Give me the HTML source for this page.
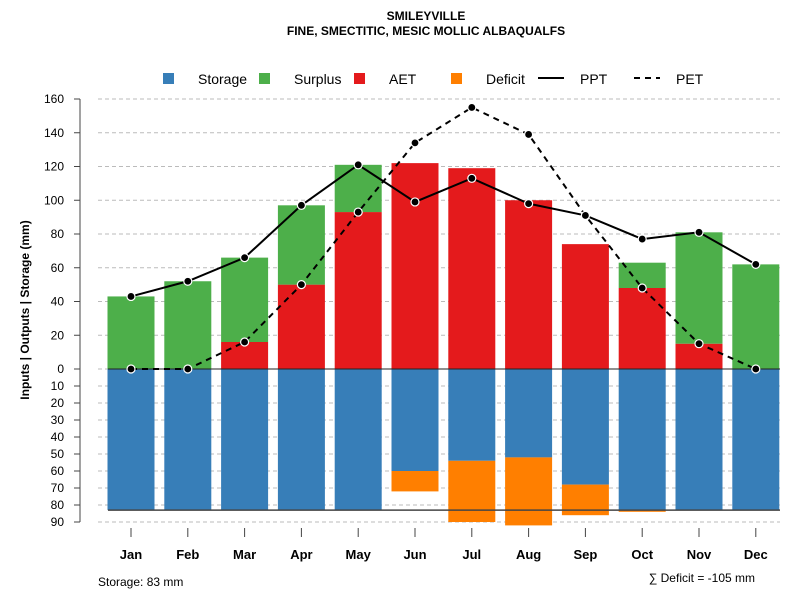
<!DOCTYPE html>
<html><head><meta charset="utf-8"><style>
body{margin:0;background:#fff}
text{font-family:"Liberation Sans",sans-serif}
</style></head><body>
<svg id="c" width="800" height="600" xmlns="http://www.w3.org/2000/svg">
<text x="426" y="20" text-anchor="middle" font-size="12" font-weight="bold">SMILEYVILLE</text>
<text x="426" y="35" text-anchor="middle" font-size="12" font-weight="bold">FINE, SMECTITIC, MESIC MOLLIC ALBAQUALFS</text>
<g id="legend"></g>
<g id="grid"></g><g id="bars"></g><g id="lines"></g><g id="axes"></g>
<text x="29" y="310" transform="rotate(-90 29 310)" text-anchor="middle" font-size="12" font-weight="bold">Inputs | Outputs | Storage    (mm)</text>
<text x="98" y="586" font-size="12">Storage: 83 mm</text>
<text x="755" y="582" text-anchor="end" font-size="12">∑ Deficit = -105 mm</text>
</svg>
<script>
const months=["Jan","Feb","Mar","Apr","May","Jun","Jul","Aug","Sep","Oct","Nov","Dec"];
const ppt=[43,52,66,97,121,99,113,98,91,77,81,62];
const pet=[0,0,16,50,93,134,155,139,91,48,15,0];
const aet=[0,0,16,50,93,122,119,100,74,48,15,0];
const surplus=[43,52,50,47,28,0,0,0,0,15,66,62];
const storage=[83,83,83,83,83,60,54,52,68,83,83,83];
const deficit=[0,0,0,0,0,12,36,40,18,1,0,0];
const upTicks=[0,20,40,60,80,100,120,140,160];
const downTicks=[10,20,30,40,50,60,70,80,90];
const NS="http://www.w3.org/2000/svg";
const x=i=>131+i*56.8, bw=47;
const yU=v=>369-v*1.6875, yD=v=>369+v*1.7;
function mk(p,t,a){const e=document.createElementNS(NS,t);for(const k in a)e.setAttribute(k,a[k]);document.getElementById(p).appendChild(e);return e;}
upTicks.concat(downTicks).forEach((v,j)=>{const y=j<upTicks.length?yU(v):yD(v);
 const g=mk('grid','line',{x1:98,x2:780,y1:y,y2:y,stroke:'#bbb','stroke-dasharray':'4,3'});
 
 mk('axes','line',{x1:74,x2:80,y1:y,y2:y,stroke:'#444'});
 const t=mk('axes','text',{x:64,y:y+4,'text-anchor':'end','font-size':12});t.textContent=v;
 });
mk('axes','line',{x1:80,x2:80,y1:yU(160),y2:yD(90),stroke:'#444'});
months.forEach((m,i)=>{const cx=x(i),l=cx-bw/2;
 let r=mk('bars','rect',{x:l,y:yU(aet[i]),width:bw,height:aet[i]*1.6875,fill:'#e41a1c'});
 
 r=mk('bars','rect',{x:l,y:yU(aet[i]+surplus[i]),width:bw,height:surplus[i]*1.6875,fill:'#4daf4a'});
 
 r=mk('bars','rect',{x:l,y:369,width:bw,height:storage[i]*1.7,fill:'#377eb8'});
 
 r=mk('bars','rect',{x:l,y:yD(storage[i]),width:bw,height:deficit[i]*1.7,fill:'#ff7f00'});
 
 mk('axes','line',{x1:cx,x2:cx,y1:528,y2:537,stroke:'#444'});
 const t=mk('axes','text',{x:cx,y:559,'text-anchor':'middle','font-size':13,'font-weight':'bold'});t.textContent=m;
 });
mk('lines','line',{x1:108,x2:780,y1:369,y2:369,stroke:'#222'});
mk('lines','line',{x1:108,x2:780,y1:yD(83),y2:yD(83),stroke:'#444','stroke-width':1.5});
[[ppt,'','ppt-line'],[pet,'6,5','pet-line']].forEach(([d,da,n])=>{
 const p=mk('lines','polyline',{points:d.map((v,i)=>x(i)+','+yU(v)).join(' '),fill:'none',stroke:'#000','stroke-width':2,'stroke-dasharray':da});
 
 d.forEach((v,i)=>{const c=mk('lines','circle',{cx:x(i),cy:yU(v),r:4,fill:'#000',stroke:'#fff','stroke-width':1.2});
 });});
const leg=[["Storage","#377eb8","sq",198],["Surplus","#4daf4a","sq",294],["AET","#e41a1c","sq",389],["Deficit","#ff7f00","sq",486],["PPT","","ln",580],["PET","","dl",676]];
leg.forEach(([n,c,t,tx])=>{
 if(t==='sq'){const r=mk('legend','rect',{x:tx-35,y:73,width:11,height:11,fill:c});}
 else{const l=mk('legend','line',{x1:tx-42,x2:tx-16,y1:78,y2:78,stroke:'#000','stroke-width':2,'stroke-dasharray':t==='dl'?'6,5':''});}
 const e=mk('legend','text',{x:tx,y:84,'font-size':14});e.textContent=n;
 });
</script>
</body></html>
